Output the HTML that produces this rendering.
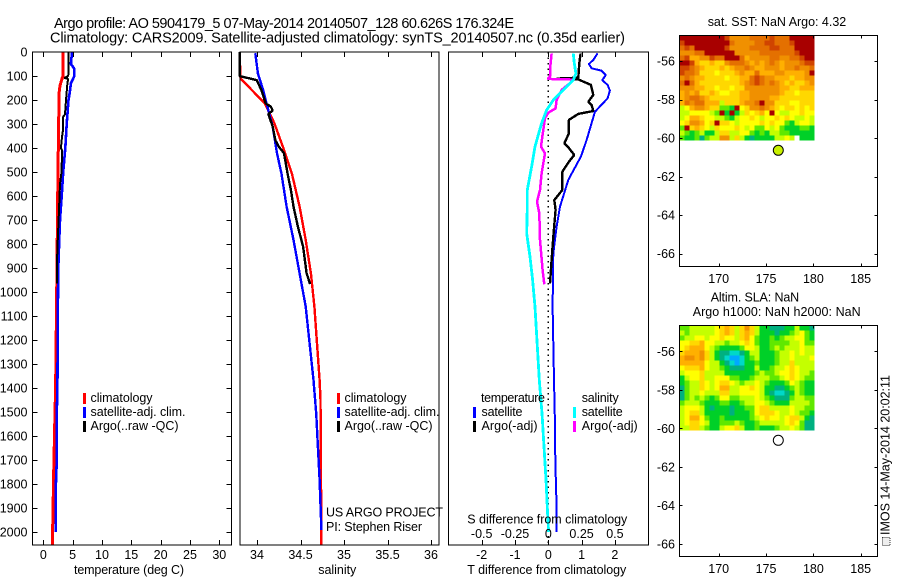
<!DOCTYPE html>
<html lang="en">
<head>
<meta charset="utf-8">
<title>Argo profile</title>
<style>
html,body{margin:0;padding:0;background:#fff;width:900px;height:580px;overflow:hidden}
svg{display:block}
text{font-family:"Liberation Sans",sans-serif;font-size:12.5px;fill:#000}
.mark{fill:none;shape-rendering:crispEdges;stroke-linejoin:bevel}
.frame{fill:none;stroke:#000;stroke-width:1.4;shape-rendering:crispEdges}
</style>
</head>
<body>
<svg id="chart" xmlns="http://www.w3.org/2000/svg" width="900" height="580" viewBox="0 0 900 580">
  <text x="54" y="28" style="font-size:14.5px" textLength="460" lengthAdjust="spacing">Argo profile: AO 5904179_5 07-May-2014 20140507_128 60.626S 176.324E</text>
  <text x="50" y="42.5" style="font-size:14.5px" textLength="575" lengthAdjust="spacing">Climatology: CARS2009. Satellite-adjusted climatology: synTS_20140507.nc (0.35d earlier)</text>

  <g id="marks"></g>

  <rect class="frame" x="32.5" y="52" width="199" height="493"/>
  <rect class="frame" x="240" y="52" width="199" height="493"/>
  <rect class="frame" x="448.5" y="52" width="200" height="493"/>
  <rect class="frame" x="679.5" y="35.5" width="198" height="231"/>
  <rect class="frame" x="679.5" y="325.5" width="198" height="231"/>

  <g id="ticks"></g>

  <!-- temperature legend -->
  <g>
    <rect x="83" y="393" width="3" height="11" fill="#f00"/>
    <rect x="83" y="407" width="3" height="11" fill="#00f"/>
    <rect x="83" y="421" width="3" height="11" fill="#000"/>
    <text x="90.5" y="402" textLength="62">climatology</text>
    <text x="90.5" y="416" textLength="95">satellite-adj. clim.</text>
    <text x="90.5" y="430" textLength="88">Argo(..raw -QC)</text>
  </g>
  <!-- salinity legend -->
  <g>
    <rect x="337" y="393" width="3" height="11" fill="#f00"/>
    <rect x="337" y="407" width="3" height="11" fill="#00f"/>
    <rect x="337" y="421" width="3" height="11" fill="#000"/>
    <text x="344.5" y="402" textLength="62">climatology</text>
    <text x="344.5" y="416" textLength="95">satellite-adj. clim.</text>
    <text x="344.5" y="430" textLength="88">Argo(..raw -QC)</text>
  </g>
  <text x="326" y="516.5" textLength="117">US ARGO PROJECT</text>
  <text x="326" y="531" textLength="96">PI: Stephen Riser</text>
  <!-- difference legend -->
  <g>
    <text x="481" y="402" textLength="64">temperature</text>
    <text x="581.7" y="402" textLength="37">salinity</text>
    <rect x="473" y="407" width="3" height="11" fill="#00f"/>
    <rect x="473" y="421" width="3" height="11" fill="#000"/>
    <rect x="573" y="407" width="3" height="11" fill="#0ff"/>
    <rect x="573" y="421" width="3" height="11" fill="#f0f"/>
    <text x="481.5" y="416" textLength="41">satellite</text>
    <text x="481.5" y="430" textLength="56">Argo(-adj)</text>
    <text x="581.7" y="416" textLength="41">satellite</text>
    <text x="581.7" y="430" textLength="56">Argo(-adj)</text>
  </g>

  <text x="74" y="574" textLength="110">temperature (deg C)</text>
  <text x="318.3" y="574" textLength="38">salinity</text>
  <text x="467.3" y="574" textLength="159">T difference from climatology</text>
  <text x="467.3" y="523.5" textLength="160">S difference from climatology</text>

  <text x="707.7" y="26" textLength="138.5">sat. SST: NaN Argo: 4.32</text>
  <text x="710.7" y="301.5" textLength="88.5">Altim. SLA: NaN</text>
  <text x="692.7" y="316" textLength="168">Argo h1000: NaN h2000: NaN</text>

  <rect x="882.5" y="537.5" width="7.5" height="8" fill="#eee" stroke="#333" stroke-width="1" stroke-dasharray="1 1"/>
  <text transform="translate(889.5,535) rotate(-90)" x="0" y="0" textLength="160">IMOS 14-May-2014 20:02:11</text>

  <circle cx="778.3" cy="150.3" r="5" fill="#c8f000" stroke="#000" stroke-width="1"/>
  <circle cx="778.3" cy="440.3" r="5" fill="#fff" stroke="#000" stroke-width="1"/>
</svg>

<script>
/* --- temperature panel --- */
const tempClimDepth = [0,100,110,140,170,400,600,1000,1400,1500,1750,1980,2054];
const tempClimValue = [3.4,3.4,3.2,2.85,2.7,2.56,2.45,2.28,2.1,2.0,1.77,1.6,1.6];
const tempSatDepth = [0,50,70,100,130,170,200,300,400,500,600,700,800,900,1000,1400,1500,1700,1800,2000];
const tempSatValue = [4.9,4.7,5.3,5.3,4.7,4.5,4.3,3.98,3.75,3.4,3.13,2.85,2.7,2.56,2.5,2.4,2.3,2.3,2.15,2.1];
const tempArgoDepth = [0,80,100,108,112,130,200,260,270,340,350,400,410,500,550,700,800,900,965];
const tempArgoValue = [4.3,4.3,4.25,3.6,4.25,4.1,3.87,3.7,3.4,3.3,3.2,3.0,3.2,3.1,2.85,2.6,2.43,2.3,2.37];

/* --- salinity panel --- */
const salClimDepth = [0,110,214,297,408,505,644,783,922,1061,1367,1450,2054];
const salClimValue = [33.8,33.81,34.09,34.2,34.31,34.4,34.49,34.56,34.62,34.66,34.72,34.73,34.74];
const salSatDepth = [5,89,158,228,311,422,505,644,783,922,1061,1367,1505,1644,1783,1992];
const salSatValue = [33.98,34.01,34.07,34.12,34.18,34.23,34.28,34.34,34.42,34.49,34.56,34.65,34.68,34.70,34.72,34.74];
const salArgoDepth = [0,100,103,117,158,214,228,244,258,311,367,394,422,505,575,644,728,811,922,967];
const salArgoValue = [33.8,33.8,33.83,33.996,34.05,34.1,34.16,34.18,34.13,34.18,34.21,34.25,34.31,34.35,34.39,34.42,34.47,34.53,34.57,34.61];

/* --- difference panel --- */
const diffTSatDepth = [6,33,50,68,78,96,117,137,161,193,249,367,436,533,644,728,839,1061,1367,1554,1700,1853,1999];
const diffTSatValue = [1.48,1.35,1.22,1.30,1.60,1.73,1.62,1.78,1.85,1.78,1.40,1.15,0.98,0.60,0.35,0.25,0.15,0.13,0.17,0.20,0.21,0.24,0.24];
const diffTArgoDepth = [6,47,107,111,114,137,179,207,221,246,258,283,339,381,397,429,457,499,575,617,658,769,867,964];
const diffTArgoValue = [0.97,0.93,0.90,0.25,0.90,1.28,1.35,1.2,1.3,1.35,0.9,0.62,0.62,0.48,0.6,0.78,0.62,0.42,0.42,0.18,0.22,0.15,0.10,0.05];
const diffSArgoDepth = [6,61,103,112,115,124,158,200,235,253,276,353,394,422,506,575,624,672,783,908,968];
const diffSArgoValue = [0.025,0.015,0.0125,-0.005,0.1875,0.175,0.1,0.0625,0.055,0,-0.025,-0.045,-0.055,-0.025,-0.05,-0.0625,-0.085,-0.0675,-0.0625,-0.0425,-0.03];
const diffSSatDepth = [6,47,89,117,158,200,242,297,394,478,575,644,756,853,950,1061,1367,1505,1644,1783,1922,1999];
const diffSSatValue = [0.1875,0.195,0.2075,0.1875,0.1125,0.0375,-0.0125,-0.05,-0.1,-0.125,-0.1575,-0.1575,-0.1625,-0.1375,-0.1175,-0.1,-0.0675,-0.0475,-0.0325,-0.0175,-0.005,0.0025];

/* --- tick labels --- */
const depthTicks = [0,100,200,300,400,500,600,700,800,900,1000,1100,1200,1300,1400,1500,1600,1700,1800,1900,2000];
const tempTicks = [0,5,10,15,20,25,30];
const salTicks = [34,34.5,35,35.5,36];
const diffTTicks = [-2,-1,0,1,2];
const diffSTicks = [-0.5,-0.25,0,0.25,0.5];
const diffSTickLabels = ['-0.5','-0.25','0','0.25','0.5'];
const lonTicks = [170,175,180,185];
const latTicks = [-56,-58,-60,-62,-64,-66];

/* --- map colour levels: low index = warm/high, high index = cold/low; null = no data --- */
const levelColors = ['#a80000','#d04400','#e47000','#f09000','#ffb000','#ffd800','#ffff00','#c4ff00','#60e800','#00d028','#00b080','#00d8c8','#00a8ff','#0060ff'];

const sstRows = [
[0,0,0,0,0,0,0,0,0,1,3,3,3,3,2,2,2,2,1,2,2,2,0,0,0,0,0],
[1,0,0,0,0,0,0,0,0,0,2,3,3,3,3,2,2,1,1,2,2,2,1,0,0,0,0],
[2,1,2,0,0,0,0,0,0,1,3,3,3,3,2,2,2,2,1,1,2,2,2,0,0,0,0],
[3,3,3,2,2,0,0,0,0,0,0,3,3,3,3,3,2,2,2,2,2,2,2,1,0,0,0],
[2,1,4,4,3,3,1,2,2,0,0,0,2,4,3,3,3,3,2,2,3,3,2,2,1,0,0],
[0,0,1,4,5,5,4,5,5,3,2,2,2,3,4,3,4,3,2,3,4,3,3,3,2,1,1],
[1,1,2,3,4,5,5,5,4,5,4,3,3,2,3,4,4,3,3,3,4,3,3,2,3,3,2],
[1,2,2,3,5,5,5,6,5,5,5,4,3,4,4,2,4,4,4,3,3,4,4,4,4,3,0],
[3,2,3,4,4,5,5,5,5,6,5,5,4,4,2,1,2,3,3,4,4,4,5,4,4,3,3],
[2,0,2,4,5,5,5,5,5,5,5,5,4,3,2,1,2,3,2,3,4,5,4,5,5,4,3],
[3,3,3,4,4,5,5,6,5,5,6,5,5,3,3,3,3,3,3,3,4,4,5,5,4,4,4],
[4,3,4,3,5,5,4,5,6,6,5,5,4,4,3,3,3,3,3,3,4,5,5,6,5,5,5],
[4,3,2,2,3,4,5,5,5,5,5,5,4,4,3,3,3,3,4,4,5,5,5,5,5,5,5],
[4,2,3,2,2,4,4,4,7,5,5,5,4,3,3,2,0,3,3,5,5,5,6,6,5,5,5],
[7,6,4,3,3,4,5,5,8,8,9,0,6,5,3,3,2,3,4,5,6,5,5,6,5,6,5],
[7,7,6,6,6,6,7,8,0,9,0,9,7,5,6,5,4,6,0,6,7,7,6,6,5,6,6],
[7,6,4,4,5,6,6,7,7,8,9,7,6,6,5,6,7,6,6,5,6,5,6,7,7,6,7],
[6,5,3,3,4,6,5,0,5,5,6,7,6,6,6,6,5,6,5,6,6,8,9,7,6,6,7],
[8,0,5,4,5,6,7,5,6,6,6,5,6,7,6,8,8,6,7,6,8,9,9,9,8,8,9],
[7,8,9,8,7,9,9,7,5,5,7,7,6,6,8,9,8,9,7,7,8,8,9,9,9,9,9],
[8,9,9,8,10,8,7,7,3,3,7,5,7,9,10,9,9,9,9,7,7,6,7,null,9,9,9]
];

const slaRows = [
[8,8,7,7,7,7,7,6,5,4,5,7,5,3,5,7,9,9,10,10,10,9,9,7,9,9,10],
[7,8,7,7,7,7,7,6,5,4,5,7,5,4,5,7,9,9,9,10,9,9,8,7,6,8,9],
[8,7,7,6,6,7,6,6,5,6,6,7,5,4,6,8,9,9,8,9,8,7,7,6,6,8,9],
[6,6,5,5,4,6,6,7,7,8,7,7,6,5,6,8,9,9,8,8,8,8,7,7,6,8,8],
[6,5,4,4,4,6,7,8,9,9,9,9,8,6,6,7,9,9,8,7,8,7,7,7,6,7,7],
[5,4,4,4,3,5,7,9,10,10,11,11,10,9,7,7,9,9,9,8,7,7,6,7,6,7,7],
[4,3,3,4,3,5,7,9,10,11,12,12,11,9,8,7,9,9,9,8,7,7,6,7,7,7,6],
[4,4,4,4,4,6,7,7,9,10,11,12,11,9,9,8,9,9,9,8,7,7,5,7,7,7,7],
[6,5,5,5,4,6,7,7,8,9,10,10,10,9,9,7,9,9,8,7,7,6,5,6,7,7,7],
[7,6,6,6,5,7,7,7,7,9,9,9,9,9,9,8,7,8,8,7,6,6,5,6,7,7,8],
[9,7,6,6,5,7,7,6,6,6,8,8,9,9,8,7,7,7,8,8,7,6,5,6,7,8,8],
[9,8,7,7,5,6,7,6,5,5,6,7,8,7,7,6,7,8,9,9,9,8,6,7,8,9,9],
[10,8,7,7,5,6,7,6,4,4,7,7,6,6,5,6,7,9,9,10,10,9,8,7,8,9,9],
[10,8,7,7,6,7,7,7,5,5,7,7,6,6,6,6,7,9,10,11,11,10,9,7,8,9,9],
[10,8,7,8,7,8,9,8,6,6,8,8,7,7,7,6,7,8,9,10,10,10,8,7,7,8,8],
[8,7,7,7,8,9,9,9,8,8,9,9,8,7,7,6,6,7,8,9,9,9,7,7,7,7,8],
[7,6,6,6,7,9,10,9,9,9,10,9,9,8,8,6,5,5,7,7,7,7,6,7,7,8,8],
[7,6,5,5,7,9,9,9,9,9,10,9,9,9,8,6,5,5,5,6,7,7,6,7,8,8,9],
[7,6,4,4,6,8,9,9,8,9,9,9,9,9,8,7,6,5,6,6,7,6,5,5,7,9,10],
[7,6,5,5,6,7,9,9,8,8,8,7,8,9,9,8,7,7,7,7,7,6,5,6,8,10,10],
[7,7,5,5,7,8,9,9,7,6,6,5,7,9,9,8,9,9,9,8,7,7,6,7,8,10,10]
];

/* --- axis functions --- */
const yDepth = d => 52 + 0.24 * d;
const xTemp = t => 43.3 + 5.867 * t;
const xSal = s => 257 + 87 * (s - 34);
const xDiffT = t => 548.3 + 33.3 * t;
const xDiffS = s => 548.3 + 133.2 * s;
const xLon = lon => 718.7 + 9.467 * (lon - 170);
const yLatSst = lat => 61 + 19.27 * (-56 - lat);
const yLatSla = lat => 351.3 + 19.27 * (-56 - lat);

const SVGNS = 'http://www.w3.org/2000/svg';
const marks = document.getElementById('marks');
const ticks = document.getElementById('ticks');

function profile(depths, values, xFn, color, width) {
  const el = document.createElementNS(SVGNS, 'polyline');
  el.setAttribute('class', 'mark');
  el.setAttribute('points', depths.map((d, i) => xFn(values[i]).toFixed(1) + ',' + yDepth(d).toFixed(1)).join(' '));
  el.setAttribute('stroke', color);
  el.setAttribute('stroke-width', width);
  marks.appendChild(el);
  return el;
}

function heatmap(rows, yTop) {
  const cellW = 135 / rows[0].length;
  const cellH = 105 / rows.length;
  rows.forEach((row, r) => row.forEach((level, c) => {
    if (level === null) return;
    const el = document.createElementNS(SVGNS, 'rect');
    
    
    el.setAttribute('x', (679.5 + c * cellW).toFixed(2));
    el.setAttribute('y', (yTop + r * cellH).toFixed(2));
    el.setAttribute('width', cellW.toFixed(2));
    el.setAttribute('height', cellH.toFixed(2));
    el.setAttribute('fill', levelColors[level]);
    el.setAttribute('shape-rendering', 'crispEdges');
    marks.appendChild(el);
  }));
}

function tickLine(x1, y1, x2, y2) {
  const el = document.createElementNS(SVGNS, 'line');
  
  
  el.setAttribute('x1', x1); el.setAttribute('y1', y1);
  el.setAttribute('x2', x2); el.setAttribute('y2', y2);
  el.setAttribute('stroke', '#000');
  el.setAttribute('stroke-width', '1');
  el.setAttribute('shape-rendering', 'crispEdges');
  ticks.appendChild(el);
}

function tickLabel(x, y, label, anchor) {
  const el = document.createElementNS(SVGNS, 'text');
  
  
  el.setAttribute('x', x);
  el.setAttribute('y', y);
  el.setAttribute('text-anchor', anchor);
  el.textContent = label;
  ticks.appendChild(el);
}

/* maps */
heatmap(sstRows, 35.5);
heatmap(slaRows, 325.5);

/* temperature profiles */
const seriesTempClim = profile(tempClimDepth, tempClimValue, xTemp, '#f00', 3);


const seriesTempSat = profile(tempSatDepth, tempSatValue, xTemp, '#00f', 2.6);


const seriesTempArgo = profile(tempArgoDepth, tempArgoValue, xTemp, '#000', 2);



/* salinity profiles */
const seriesSalClim = profile(salClimDepth, salClimValue, xSal, '#f00', 2.4);


const seriesSalSat = profile(salSatDepth, salSatValue, xSal, '#00f', 2.4);


const seriesSalArgo = profile(salArgoDepth, salArgoValue, xSal, '#000', 2.4);



/* difference profiles */
const zeroLine = document.createElementNS(SVGNS, 'line');


zeroLine.setAttribute('x1', xDiffT(0)); zeroLine.setAttribute('x2', xDiffT(0));
zeroLine.setAttribute('y1', yDepth(0)); zeroLine.setAttribute('y2', 545);
zeroLine.setAttribute('stroke', '#000');
zeroLine.setAttribute('stroke-width', '1.2');
zeroLine.setAttribute('stroke-dasharray', '1.5 4');
zeroLine.setAttribute('shape-rendering', 'crispEdges');
marks.appendChild(zeroLine);

const seriesDiffTSat = profile(diffTSatDepth, diffTSatValue, xDiffT, '#00f', 2);


const seriesDiffTArgo = profile(diffTArgoDepth, diffTArgoValue, xDiffT, '#000', 2.4);


const seriesDiffSArgo = profile(diffSArgoDepth, diffSArgoValue, xDiffS, '#f0f', 2.5);


const seriesDiffSSat = profile(diffSSatDepth, diffSSatValue, xDiffS, '#0ff', 2.8);



/* ticks: depth axis */
depthTicks.forEach(d => {
  const y = Math.round(yDepth(d)) + 0.5;
  if (d > 0) { tickLine(32.5, y, 37.5, y); tickLine(226.5, y, 231.5, y); }
  tickLabel(27.5, yDepth(d) + 4.5, String(d), 'end');
});

/* ticks: temperature */
tempTicks.forEach(t => {
  const x = Math.round(xTemp(t)) + 0.5;
  tickLine(x, 52, x, 57); tickLine(x, 540, x, 545);
  tickLabel(xTemp(t), 559, String(t), 'middle');
});

/* ticks: salinity */
salTicks.forEach(s => {
  const x = Math.round(xSal(s)) + 0.5;
  tickLine(x, 52, x, 57); tickLine(x, 540, x, 545);
  tickLabel(xSal(s), 559, String(s), 'middle');
});

/* ticks: difference */
diffTTicks.forEach(t => {
  const x = Math.round(xDiffT(t)) + 0.5;
  tickLine(x, 52, x, 57); tickLine(x, 540, x, 545);
  tickLabel(xDiffT(t), 559, String(t), 'middle');
});
diffSTicks.forEach((s, i) => {
  tickLabel(xDiffS(s), 538, diffSTickLabels[i], 'middle');
});

/* ticks: maps */
[[35.5, 266.5, yLatSst, 283], [325.5, 556.5, yLatSla, 573]].forEach(([top, bottom, yLat, base]) => {
  lonTicks.forEach(lon => {
    const x = Math.round(xLon(lon)) + 0.5;
    tickLine(x, top, x, top + 3); tickLine(x, bottom - 3, x, bottom);
    tickLabel(xLon(lon), base, String(lon), 'middle');
  });
  latTicks.forEach(lat => {
    const y = Math.round(yLat(lat)) + 0.5;
    tickLine(679.5, y, 682.5, y); tickLine(874.5, y, 877.5, y);
    tickLabel(675, yLat(lat) + 4.5, String(lat), 'end');
  });
});
</script>
</body>
</html>
